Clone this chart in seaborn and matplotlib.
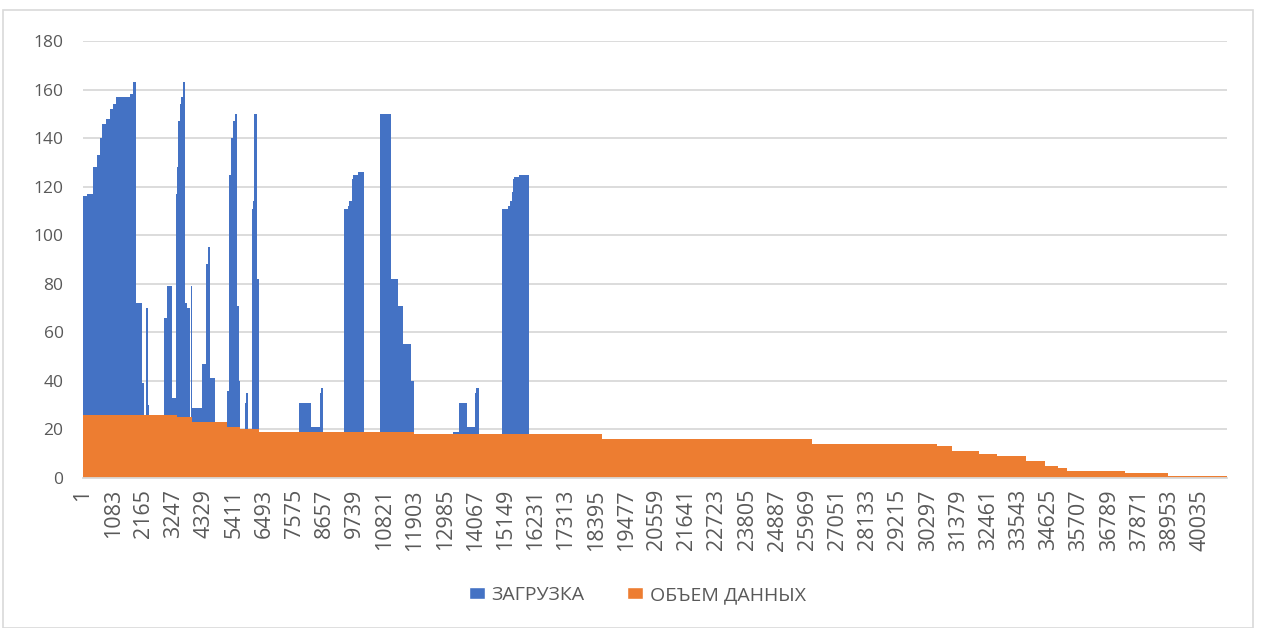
import matplotlib
matplotlib.use("Agg")
import matplotlib.pyplot as plt
from matplotlib.patches import Patch, Rectangle
import numpy as np
import pandas as pd
import seaborn as sns

n_rows = 41000

# ЗАГРУЗКА: step edges (row numbers) and value on each step
load_edges = [0, 143, 359, 516, 599, 671, 814, 957, 1076, 1173, 1675, 1793, 1915,
              2130, 2177, 2248, 2320, 2356, 2894, 3012, 3181, 3324, 3371, 3407,
              3468, 3529, 3575, 3658, 3729, 3826, 3862, 3923, 4282, 4425, 4483,
              4569, 4723, 5178, 5236, 5322, 5393, 5451, 5537, 5583, 5619, 5799,
              5834, 5860, 5931, 6050, 6090, 6115, 6135, 6225, 6301, 7735, 8166,
              8488, 8535, 8621, 9349, 9492, 9539, 9646, 9682, 9851, 10091, 10665,
              11034, 11285, 11465, 11752, 11859, 13258, 13473, 13760, 14047,
              14107, 14190, 15015, 15230, 15301, 15373, 15420, 15456, 15624,
              15972, n_rows]
load_values = [116, 117, 128, 133, 140, 146, 148, 152, 154, 157, 158, 163,
               72, 39, 0, 70, 30, 0, 66, 79, 33, 117, 128, 147, 154, 157, 163,
               72, 70, 0, 79, 29, 47, 88, 95, 41, 0, 36, 125, 140, 147, 150,
               71, 40, 0, 31, 21, 35, 0, 111, 114, 125, 150, 82, 0, 31, 21,
               35, 37, 0, 111, 112, 114, 123, 125, 126, 0, 150, 82, 71, 55,
               40, 0, 19, 31, 21, 35, 37, 0, 111, 112, 114, 118, 123, 124,
               125, 0]

# ОБЪЕМ ДАННЫХ
volume_edges = [0, 3385, 3923, 5178, 5619, 6301, 11859, 18601, 26132, 30602,
                31151, 32119, 32765, 33794, 34486, 34952, 35275, 37355, 38886,
                n_rows]
volume_values = [26, 25, 23, 21, 20, 19, 18, 16, 14, 13, 11, 10, 9, 7, 5, 4,
                 3, 2, 1]

tick_rows = list(range(1, n_rows + 1, 1082))

blue = "#4472C4"
orange = "#ED7D31"
text_gray = "#595959"
grid_gray = "#D9D9D9"

sns.set_theme(style="white")
plt.rcParams["font.family"] = ["Open Sans", "DejaVu Sans"]

fig = plt.figure(figsize=(12.61, 6.28), dpi=100)
ax = fig.add_axes([0.0658, 0.2389, 0.9070, 0.6958])

for edges, values, color in [(load_edges, load_values, blue),
                             (volume_edges, volume_values, orange)]:
    e = np.array(edges, dtype=float)
    steps = pd.DataFrame({"row": (e[:-1] + e[1:]) / 2, "value": values})
    sns.histplot(data=steps, x="row", weights="value", bins=list(edges),
                 element="step", fill=True, color=color, alpha=1,
                 linewidth=0, ax=ax)

ax.set_xlim(0, n_rows)
ax.set_ylim(0, 180)
ax.set_yticks(range(0, 181, 20))
ax.set_xticks([r - 0.5 for r in tick_rows])
ax.set_xticklabels([str(r) for r in tick_rows], rotation=90, fontsize=15.5,
                   color=text_gray)
ax.tick_params(axis="y", labelsize=12.5, colors=text_gray, length=0, pad=14)
ax.tick_params(axis="x", length=0, pad=8)
ax.set_xlabel("")
ax.set_ylabel("")
ax.yaxis.grid(True, color=grid_gray, linewidth=1.3)
ax.set_axisbelow(True)
for side in ["top", "right", "left"]:
    ax.spines[side].set_visible(False)
ax.spines["bottom"].set_color(grid_gray)
ax.spines["bottom"].set_linewidth(1.3)

handles = [Patch(facecolor=blue, label="ЗАГРУЗКА"),
           Patch(facecolor=orange, label="ОБЪЕМ ДАННЫХ")]
fig.legend(handles=handles, loc="center", bbox_to_anchor=(0.5055, 0.0525),
           ncol=2, frameon=False, fontsize=14, labelcolor=text_gray,
           handlelength=0.8, handleheight=0.55, handletextpad=0.35,
           columnspacing=2.2)

fig.patches.append(Rectangle((3 / 1261, 0.0), 1250 / 1261, 618 / 628,
                             transform=fig.transFigure, fill=False,
                             edgecolor=grid_gray, linewidth=1.2))

plt.savefig("out.png", dpi=100)
